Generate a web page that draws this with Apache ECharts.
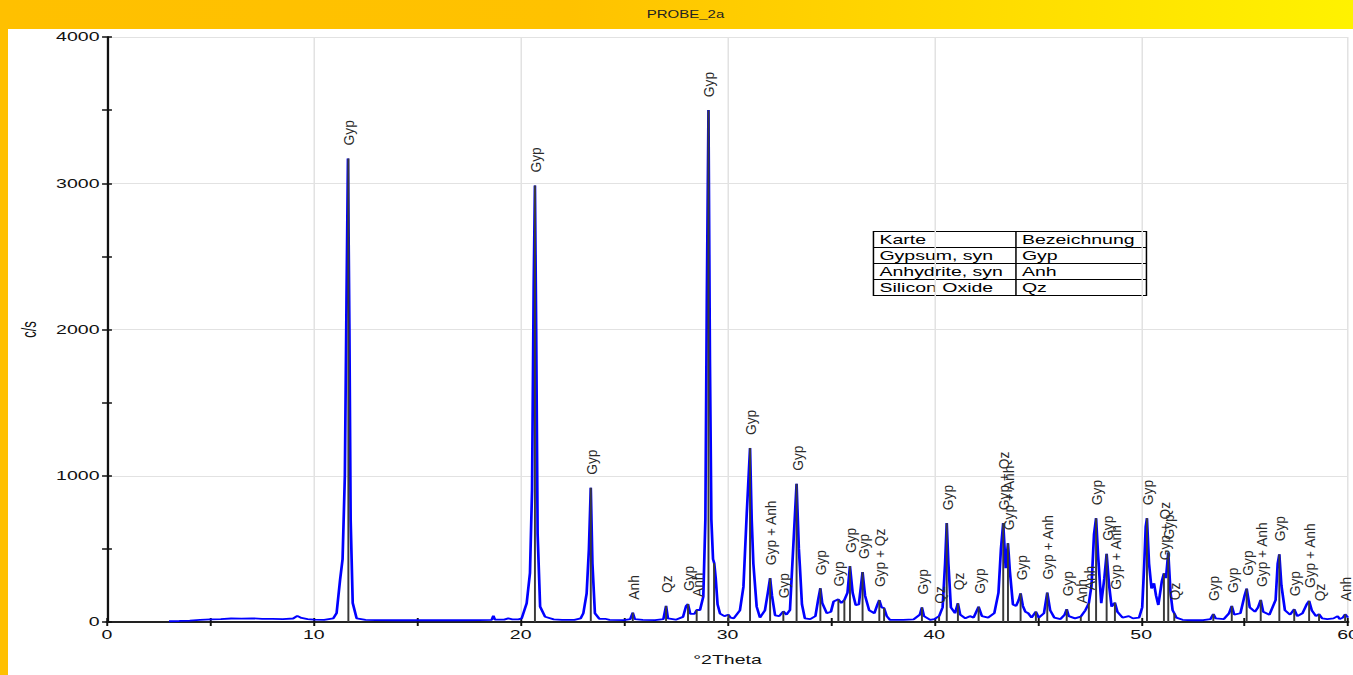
<!DOCTYPE html>
<html>
<head>
<meta charset="utf-8">
<script src="https://cdn.jsdelivr.net/npm/echarts@6/dist/echarts.min.js"></script>
<style>
html,body{margin:0;padding:0;width:1353px;height:675px;overflow:hidden;}
#frame{position:absolute;left:0;top:0;width:1353px;height:675px;background:linear-gradient(90deg,#FFC000 0%,#FFC200 42%,#FFF200 100%);}
#panel{position:absolute;left:8px;top:29px;width:1345px;height:646px;background:#ffffff;}
#chart{position:absolute;left:0;top:0;width:902px;height:675px;transform:scaleX(1.5);transform-origin:0 0;}
</style>
</head>
<body>
<div id="frame"></div>
<div id="panel"></div>
<div id="chart"></div>
<script>
// ---- data ----
const chartTitle = 'PROBE_2a';
const xTicks = [0, 10, 20, 30, 40, 50, 60];
const yTicks = [0, 1000, 2000, 3000, 4000];
const xName = '°2Theta';
const yName = 'c/s';

// measured diffraction profile: [°2Theta, c/s]
const profile = [
[3.0,5],[3.5,7],[4.0,10],[4.5,14],[5.0,18],[5.5,20],[6.0,24],[6.5,23],[7.0,25],[7.5,22],[8.0,21],[8.5,20],[9.0,24],[9.2,42],[9.4,28],[9.7,20],[10.0,16],[10.5,15],
[10.94,25],[11.1,60],[11.27,290],[11.39,430],[11.5,1000],[11.58,2200],[11.65,3170],[11.72,2000],[11.78,700],[11.88,130],[12.07,25],[12.5,15],
[13,13],[14,12],[15,12],[16,12],[17,12],[18,13],[18.6,15],[18.68,43],[18.76,16],[19.2,16],[19.4,25],[19.6,18],[19.9,18],
[20.05,25],[20.29,128],[20.45,335],[20.55,900],[20.63,2300],[20.69,2985],[20.75,2000],[20.82,600],[20.94,105],[21.18,36],[21.6,18],[22.0,14],[22.6,15],
[22.9,25],[23.03,60],[23.19,196],[23.3,500],[23.39,918],[23.47,400],[23.59,60],[23.8,22],[24.08,22],[24.3,14],[25.0,13],[25.3,20],[25.42,64],[25.52,20],
[25.9,14],[26.5,13],[26.9,20],[27.03,110],[27.12,25],[27.5,16],[27.85,35],[28.0,110],[28.09,123],[28.2,55],[28.4,55],[28.51,82],[28.67,82],[28.83,173],
[28.93,700],[29.0,2200],[29.08,3500],[29.15,1800],[29.22,700],[29.3,430],[29.36,402],[29.43,300],[29.52,120],[29.64,57],[29.85,40],[30.04,50],[30.15,30],
[30.3,25],[30.6,80],[30.77,240],[30.93,740],[31.09,1190],[31.17,700],[31.25,400],[31.41,105],[31.57,30],[31.81,80],[31.95,200],[32.06,300],[32.15,180],
[32.3,46],[32.5,40],[32.7,73],[32.85,50],[33.02,82],[33.18,516],[33.34,945],[33.45,500],[33.5,380],[33.6,120],[33.74,25],[34.0,20],[34.25,40],[34.38,150],
[34.49,231],[34.58,130],[34.8,60],[35.0,70],[35.13,140],[35.36,155],[35.5,130],[35.65,150],[35.8,200],[35.92,383],[36.05,200],[36.2,116],[36.35,120],
[36.53,342],[36.65,180],[36.85,80],[37.1,60],[37.25,120],[37.34,150],[37.45,100],[37.57,95],[37.7,40],[37.86,14],[38.5,14],[39.0,18],[39.3,50],[39.4,100],
[39.5,40],[39.8,15],[40.0,20],[40.23,40],[40.4,100],[40.52,400],[40.6,676],[40.68,400],[40.8,100],[41.0,60],[41.14,128],[41.25,50],[41.5,25],[41.72,40],
[41.9,30],[42.14,105],[42.3,40],[42.6,30],[42.9,60],[43.1,200],[43.22,500],[43.33,676],[43.45,368],[43.56,539],[43.65,350],[43.8,120],[43.95,110],[44.08,150],
[44.17,196],[44.28,110],[44.4,70],[44.54,60],[44.7,30],[44.91,70],[45.05,30],[45.3,60],[45.46,201],[45.6,80],[45.8,30],[46.1,20],[46.3,50],[46.4,87],
[46.5,40],[46.8,25],[47.08,37],[47.3,80],[47.47,128],[47.6,250],[47.72,600],[47.82,710],[47.92,450],[48.07,128],[48.22,300],[48.33,466],[48.45,250],
[48.57,105],[48.73,132],[48.85,70],[49.1,30],[49.4,40],[49.6,25],[49.9,30],[50.05,100],[50.15,400],[50.22,650],[50.28,710],[50.38,400],[50.5,230],
[50.62,265],[50.72,180],[50.83,116],[51.0,280],[51.1,333],[51.2,300],[51.31,475],[51.42,200],[51.52,80],[51.6,60],[51.7,30],[52.0,15],[52.5,12],[53.0,12],
[53.35,20],[53.49,55],[53.6,25],[54.0,20],[54.25,60],[54.38,110],[54.5,50],[54.8,60],[55.0,180],[55.1,228],[55.25,100],[55.5,70],[55.65,100],[55.78,151],
[55.9,70],[56.2,50],[56.5,150],[56.6,400],[56.68,463],[56.78,250],[56.95,80],[57.2,50],[57.4,87],[57.55,40],[57.8,60],[58.0,120],[58.12,144],[58.25,80],
[58.45,40],[58.6,53],[58.75,25],[59.0,20],[59.3,25],[59.5,40],[59.6,20],[59.75,30],[59.86,53],[60.0,30]
];

// reference peak sticks
const stickPos    = [11.67, 20.69, 23.39, 25.42, 27.03, 28.09, 28.51, 29.08, 29.35, 30.04, 31.09, 32.06, 32.70, 33.34, 34.49, 35.36, 35.65, 35.92, 36.53, 37.34, 37.57, 39.40, 40.23, 40.60, 41.14, 42.14, 43.33, 43.56, 44.17, 44.91, 45.46, 46.40, 47.08, 47.47, 47.82, 48.33, 48.73, 50.28, 51.10, 51.31, 51.60, 53.49, 54.38, 55.10, 55.78, 56.68, 57.40, 58.12, 58.60, 59.86];
const stickHeight = [3170, 2985, 918, 64, 110, 123, 82, 3500, 402, 50, 1190, 300, 73, 945, 231, 153, 150, 383, 342, 150, 96, 100, 36, 676, 128, 105, 676, 539, 196, 71, 201, 87, 37, 128, 710, 466, 132, 710, 333, 475, 60, 55, 110, 228, 151, 463, 87, 144, 53, 53];
const stickLabel  = ['Gyp','Gyp','Gyp','Anh','Qz','Gyp','Anh','Gyp','','','Gyp','Gyp + Anh','Gyp','Gyp','Gyp','Gyp','','Gyp','Gyp','Gyp + Qz','','Gyp','Qz','Gyp','Qz','Gyp','Gyp + Qz','Gyp + Anh','Gyp','','Gyp + Anh','Gyp','Anh','Anh','Gyp','Gyp','Gyp + Anh','Gyp','Gyp + Qz','Gyp','Qz','Gyp','Gyp','Gyp','Gyp + Anh','Gyp','Gyp','Gyp + Anh','Qz','Anh'];

// phase table
const tableHeader = ['Karte', 'Bezeichnung'];
const tableRows = [['Gypsum, syn', 'Gyp'], ['Anhydrite, syn', 'Anh'], ['Silicon Oxide', 'Qz']];

// ---- chart ----
const FONT = "'Liberation Sans', Arial, Helvetica, sans-serif";
const chart = echarts.init(document.getElementById('chart'), null, {renderer: 'svg'});

const stickData = stickPos.map((p, i) => [p, stickHeight[i]]);

// table graphic
const tblX = 582.3, tblY = 231.5, col1 = 95, tblW = 182, rowH = 16;
const allRows = [tableHeader].concat(tableRows);
const tblChildren = [{type: 'rect', shape: {x: 0, y: 0, width: tblW, height: rowH * allRows.length}, style: {fill: '#fff', stroke: '#000', lineWidth: 1}}];
for (let r = 1; r < allRows.length; r++) {
  tblChildren.push({type: 'line', shape: {x1: 0, y1: r * rowH, x2: tblW, y2: r * rowH}, style: {stroke: '#000', lineWidth: 1}});
}
tblChildren.push({type: 'line', shape: {x1: col1, y1: 0, x2: col1, y2: rowH * allRows.length}, style: {stroke: '#000', lineWidth: 1}});
allRows.forEach((row, r) => {
  tblChildren.push({type: 'text', x: 4, y: r * rowH + rowH / 2 + 0.5, style: {text: row[0], fill: '#000', fontSize: 13, fontFamily: FONT, align: 'left', verticalAlign: 'middle'}});
  tblChildren.push({type: 'text', x: col1 + 4, y: r * rowH + rowH / 2 + 0.5, style: {text: row[1], fill: '#000', fontSize: 13, fontFamily: FONT, align: 'left', verticalAlign: 'middle'}});
});

const tickStyle = {color: '#111', width: 1.3};
const plainNum = v => String(v);
const option = {
  animation: false,
  title: {text: chartTitle, left: 457, top: 9, padding: 0, textAlign: 'center',
    textStyle: {fontSize: 10, fontWeight: 'normal', color: '#222', fontFamily: FONT}},
  grid: {left: 71.33, right: 3.33, top: 37, bottom: 53, containLabel: false, outerBoundsMode: 'none'},
  xAxis: [{
    type: 'value', min: xTicks[0], max: xTicks[xTicks.length - 1], interval: xTicks[1] - xTicks[0], position: 'bottom',
    name: xName, nameLocation: 'middle', nameGap: 31,
    nameTextStyle: {fontSize: 13, color: '#111', fontFamily: FONT},
    axisLine: {show: true, onZero: false, lineStyle: {color: '#222', width: 2}},
    axisTick: {show: true, length: 4, lineStyle: tickStyle},
    minorTick: {show: true, splitNumber: 2, length: 4, lineStyle: tickStyle},
    axisLabel: {margin: 6, fontSize: 13, color: '#111', fontFamily: FONT, formatter: plainNum, hideOverlap: false},
    splitLine: {show: true, lineStyle: {color: '#e2e2e2', width: 1}}
  }, {
    type: 'value', min: xTicks[0], max: xTicks[xTicks.length - 1], interval: xTicks[1] - xTicks[0], position: 'bottom',
    axisLine: {show: false}, axisLabel: {show: false}, splitLine: {show: false},
    axisTick: {show: true, inside: true, length: 4, lineStyle: tickStyle},
    minorTick: {show: true, splitNumber: 2, length: 4, lineStyle: tickStyle}
  }],
  yAxis: [{
    type: 'value', min: yTicks[0], max: yTicks[yTicks.length - 1], interval: yTicks[1] - yTicks[0], position: 'left',
    name: yName, nameLocation: 'middle', nameGap: 38,
    nameTextStyle: {fontSize: 13, color: '#111', fontFamily: FONT},
    axisLine: {show: true, onZero: false, lineStyle: {color: '#111', width: 1.5}},
    axisTick: {show: true, length: 3.3, lineStyle: {color: '#111', width: 1.5}},
    minorTick: {show: true, splitNumber: 2, length: 3.3, lineStyle: {color: '#111', width: 1.5}},
    axisLabel: {margin: 5, fontSize: 13, color: '#111', fontFamily: FONT, formatter: plainNum},
    splitLine: {show: true, lineStyle: {color: '#e2e2e2', width: 1}}
  }, {
    type: 'value', min: yTicks[0], max: yTicks[yTicks.length - 1], interval: yTicks[1] - yTicks[0], position: 'left',
    axisLine: {show: false}, axisLabel: {show: false}, splitLine: {show: false},
    axisTick: {show: true, inside: true, length: 3.3, lineStyle: {color: '#111', width: 1.5}},
    minorTick: {show: true, splitNumber: 2, length: 3.3, lineStyle: {color: '#111', width: 1.5}}
  }],
  graphic: [{type: 'group', x: tblX, y: tblY, children: tblChildren}],
  series: [{
    type: 'line', name: 'profile', data: profile, showSymbol: false, symbol: 'none',
    lineStyle: {color: '#0000ff', width: 1.8}, z: 2, silent: true
  }, {
    type: 'custom', name: 'peaks', data: stickData, z: 3, clip: false, silent: true,
    encode: {x: 0, y: 1},
    renderItem: function (params, api) {
      const x = api.value(0), h = api.value(1);
      const p0 = api.coord([x, 0]);
      const p1 = api.coord([x, h]);
      const children = [{type: 'line', shape: {x1: p0[0], y1: p0[1], x2: p1[0], y2: p1[1]}, style: {stroke: '#3a3a3a', lineWidth: 1.3}}];
      const lab = stickLabel[params.dataIndex];
      if (lab) {
        children.push({type: 'text', x: p1[0] + 0.5, y: p1[1] - 13, rotation: Math.PI / 2, scaleX: 1.25, scaleY: 0.9,
          style: {text: lab, fill: '#2a2a2a', fontSize: 11, fontFamily: FONT, align: 'left', verticalAlign: 'middle'}});
      }
      return {type: 'group', children: children};
    }
  }]
};
chart.setOption(option);
</script>
</body>
</html>
